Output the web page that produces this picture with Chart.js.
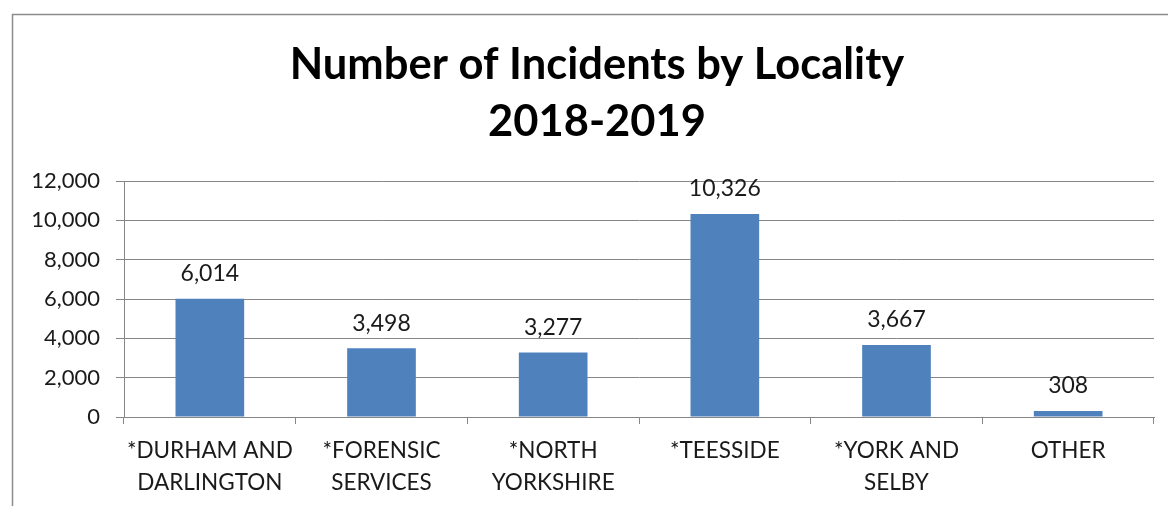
<!DOCTYPE html>
<html>
<head>
<meta charset="utf-8">
<script src="https://cdn.jsdelivr.net/npm/chart.js@4"></script>
<style>
  html, body { margin: 0; padding: 0; background: #fff; }
  #wrap { width: 1168px; height: 506px; }
</style>
</head>
<body>
<div id="wrap"><canvas id="incidentChart" width="1168" height="506"></canvas></div>
<script>
let localities = [['*DURHAM AND', 'DARLINGTON'], ['*FORENSIC', 'SERVICES'], ['*NORTH', 'YORKSHIRE'], ['*TEESSIDE'], ['*YORK AND', 'SELBY'], ['OTHER']];
let incidents = [6014, 3498, 3277, 10326, 3667, 308];
let yTicks = [0, 2000, 4000, 6000, 8000, 10000, 12000];
let titleLines = ['Number of Incidents by Locality', '2018-2019'];

const fontName = 'Lato, "Open Sans", sans-serif';

// grey frame round the chart (only top and left are inside the picture) + the title,
// which sits centred on the frame rather than on the canvas
const framePlugin = {
    id: 'frame',
    beforeDraw(chart) {
        const ctx = chart.ctx;
        ctx.save();
        ctx.strokeStyle = '#8c8c8c';
        ctx.lineWidth = 1.5;
        ctx.beginPath();
        ctx.moveTo(12.5, 506);
        ctx.lineTo(12.5, 14.5);
        ctx.lineTo(1168, 14.5);
        ctx.stroke();

        ctx.font = 'bold 43.5px ' + fontName;
        ctx.fillStyle = '#000';
        ctx.textAlign = 'center';
        ctx.textBaseline = 'middle';
        titleLines.forEach((line, i) => {
            ctx.fillText(line, 597, 65 + i * 57);
        });
        ctx.restore();
    }
};

// value labels above each bar
const valueLabels = {
    id: 'valueLabels',
    afterDatasetsDraw(chart) {
        const ctx = chart.ctx;
        const meta = chart.getDatasetMeta(0);
        ctx.save();
        ctx.font = '23px ' + fontName;
        ctx.fillStyle = '#1a1a1a';
        ctx.textAlign = 'center';
        ctx.textBaseline = 'middle';
        meta.data.forEach((bar, i) => {
            ctx.fillText(incidents[i].toLocaleString('en-US'), bar.x, bar.y - 25);
        });
        ctx.restore();
    }
};

const ctx = document.getElementById('incidentChart').getContext('2d');
const incidentChart = new Chart(ctx, {
    type: 'bar',
    data: {
        labels: localities,
        datasets: [{
            data: incidents,
            backgroundColor: '#4F81BD',
            barPercentage: 0.4,
            categoryPercentage: 1.0
        }]
    },
    options: {
        responsive: false,
        animation: false,
        layout: { padding: { left: 0, right: 14, top: 181, bottom: 0 } },
        plugins: {
            legend: { display: false },
            tooltip: { enabled: false },
            title: { display: false }
        },
        scales: {
            x: {
                offset: true,
                grid: { offset: true, drawOnChartArea: false, drawTicks: true, tickLength: 7, color: '#868686' },
                border: { color: '#868686' },
                ticks: {
                    color: '#1a1a1a',
                    padding: 11,
                    maxRotation: 0,
                    autoSkip: false,
                    font: { family: fontName, size: 22.5, lineHeight: 1.42 }
                },
                afterFit(scale) { scale.height = 89; }
            },
            y: {
                min: 0,
                max: 12000,
                afterBuildTicks(scale) { scale.ticks = yTicks.map(v => ({ value: v })); },
                grid: { color: '#868686', drawTicks: true, tickLength: 8 },
                border: { color: '#868686' },
                ticks: {
                    color: '#1a1a1a',
                    padding: 16,
                    font: { family: fontName, size: 22 },
                    callback: v => v.toLocaleString('en-US')
                },
                afterFit(scale) { scale.width = 124; }
            }
        }
    },
    plugins: [framePlugin, valueLabels]
});
</script>
</body>
</html>
